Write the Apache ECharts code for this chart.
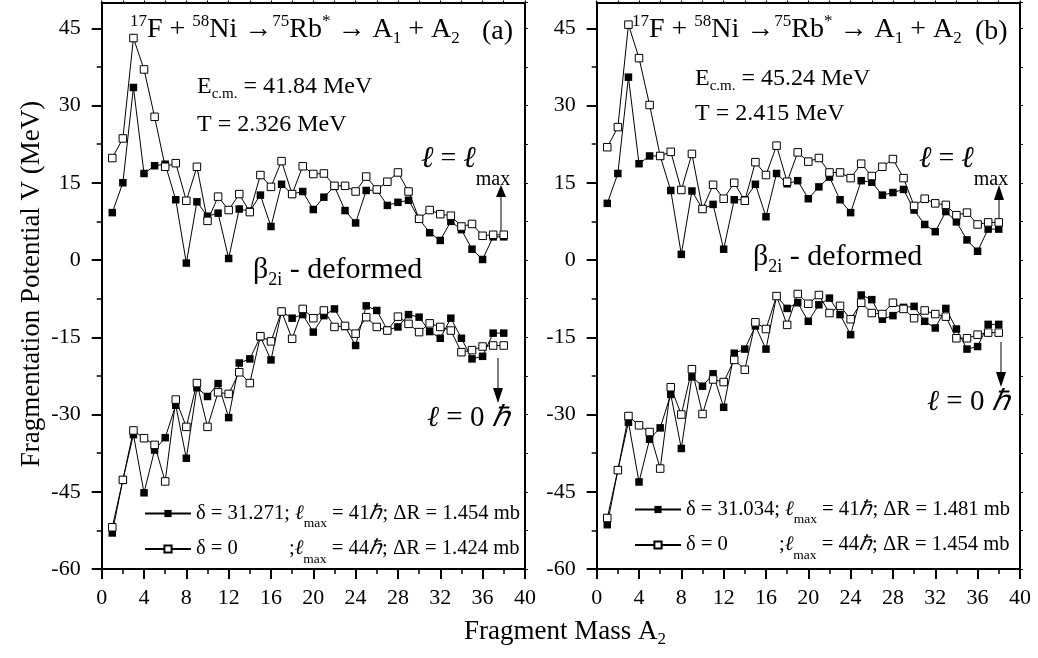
<!DOCTYPE html>
<html><head><meta charset="utf-8">
<script src="https://cdn.jsdelivr.net/npm/echarts@6/dist/echarts.min.js"></script>
<style>html,body{margin:0;padding:0;background:#fff}#c{width:1038px;height:658px}</style>
</head><body><div id="c"></div>
<script>
// ---------- data ----------
const massA = [1,2,3,4,5,6,7,8,9,10,11,12,13,14,15,16,17,18,19,20,21,22,23,24,25,26,27,28,29,30,31,32,33,34,35,36,37,38];
const yTicks = [-60,-45,-30,-15,0,15,30,45];
const xTicks = [0,4,8,12,16,20,24,28,32,36,40];

// panel (a): E_cm = 41.84 MeV
const aDefLmax = [9.2,15.0,33.5,16.8,18.3,18.6,11.7,-0.6,11.3,8.5,9.1,0.3,9.9,9.5,12.6,6.5,14.7,12.8,13.3,9.8,12.2,14.3,9.6,7.2,13.5,13.6,10.6,11.2,11.6,8.0,5.3,3.8,7.5,5.9,2.1,0.1,4.5,4.5];
const aSphLmax = [19.8,23.6,43.1,37.0,27.8,18.1,18.8,11.5,18.1,7.6,12.3,9.7,12.8,9.3,16.5,14.2,19.2,12.8,18.2,16.7,16.8,14.4,14.4,13.3,16.2,13.7,15.2,17.0,13.3,8.0,9.7,8.9,8.6,6.5,7.0,4.7,4.9,4.9];
const aDefL0 = [-53.0,-42.7,-33.9,-45.2,-36.9,-34.5,-28.2,-38.5,-24.8,-26.5,-24.0,-30.6,-20.0,-19.2,-14.9,-19.4,-10.0,-11.3,-10.6,-14.0,-10.8,-9.5,-12.9,-16.6,-8.9,-9.8,-13.6,-13.0,-10.6,-11.1,-13.9,-15.2,-11.3,-15.2,-19.2,-18.7,-14.2,-14.2];
const aSphL0 = [-51.9,-42.7,-33.1,-34.6,-35.9,-43.0,-27.1,-32.4,-23.9,-32.4,-25.7,-26.0,-21.8,-23.9,-14.8,-15.8,-10.0,-15.3,-9.5,-11.3,-9.8,-13.0,-12.8,-14.3,-11.1,-13.0,-13.7,-11.0,-12.4,-14.0,-12.3,-13.0,-13.7,-17.9,-17.5,-16.8,-16.6,-16.6];

// panel (b): E_cm = 45.24 MeV
const bDefLmax = [11.0,16.8,35.5,18.7,20.2,20.2,13.5,1.1,13.4,9.9,10.8,2.1,11.7,11.7,14.7,8.4,16.8,14.8,15.4,11.9,14.2,16.1,11.7,9.2,15.4,15.1,12.6,13.1,13.7,9.7,6.9,5.5,9.4,7.4,3.9,1.7,6.0,6.0];
const bSphLmax = [21.9,25.8,45.7,39.2,30.1,20.2,21.0,13.6,20.6,9.9,14.6,11.9,15.0,11.5,19.0,16.5,22.2,15.2,20.9,19.1,19.8,17.0,17.0,15.9,18.7,16.3,18.1,19.6,15.9,10.5,11.9,11.0,10.7,8.7,9.2,6.9,7.3,7.3];
const bDefL0 = [-51.4,-40.8,-31.5,-43.1,-34.8,-32.6,-26.1,-36.6,-22.7,-24.5,-22.1,-28.6,-18.1,-17.3,-12.8,-17.3,-7.0,-9.4,-8.3,-11.9,-8.7,-7.4,-10.6,-14.5,-6.8,-7.7,-11.5,-10.8,-9.2,-9.0,-11.9,-13.2,-9.4,-13.4,-17.3,-16.8,-12.5,-12.5];
const bSphL0 = [-50.1,-40.8,-30.3,-32.1,-33.4,-40.5,-24.7,-30.0,-21.2,-29.9,-23.2,-23.7,-19.4,-21.3,-12.1,-13.4,-7.0,-12.6,-6.6,-8.5,-6.8,-10.3,-8.9,-11.5,-8.3,-10.3,-10.5,-8.3,-9.5,-11.3,-9.8,-10.5,-11.0,-15.2,-15.2,-14.5,-14.1,-14.1];

// ---------- chart ----------
const F = 'Liberation Serif';
const chart = echarts.init(document.getElementById('c'), null, {renderer: 'canvas'});
const pairs = arr => massA.map((m, i) => [m, arr[i]]);

function ser(name, arr, g, filled) {
  return {
    type: 'line', name: name, xAxisIndex: g * 2, yAxisIndex: g * 2,
    data: pairs(arr), symbol: 'rect', symbolSize: 7.5, showSymbol: true,
    lineStyle: {color: '#000', width: 1},
    itemStyle: filled ? {color: '#000', borderColor: '#000', borderWidth: 0}
                      : {color: '#fff', borderColor: '#000', borderWidth: 1},
    z: filled ? 2 : 3, silent: true, emphasis: {disabled: true}, animation: false
  };
}

const lineAx = {show: true, onZero: false, lineStyle: {color: '#000', width: 2}};
function xMain(g) {
  return {type: 'value', gridIndex: g, position: 'bottom', min: 0, max: 40, interval: 4,
    axisLine: lineAx, axisTick: {show: true, length: 10, lineStyle: {color: '#000', width: 2}},
    minorTick: {show: true, splitNumber: 2, length: 5, lineStyle: {color: '#000', width: 1.5}},
    axisLabel: {fontFamily: F, fontSize: 22, color: '#000', margin: 18},
    splitLine: {show: false}};
}
function xTop(g) {
  return {type: 'value', gridIndex: g, position: 'top', min: 0, max: 40, interval: 2,
    axisLine: lineAx, axisTick: {show: true, length: 2, lineStyle: {color: '#000', width: 1}},
    axisLabel: {show: false}, splitLine: {show: false}};
}
function yMain(g) {
  return {type: 'value', gridIndex: g, position: 'left', min: -60, max: 50, interval: 15,
    axisLine: lineAx,
    axisTick: {show: true, length: 10, customValues: yTicks, lineStyle: {color: '#000', width: 2}},
    minorTick: {show: true, splitNumber: 2, length: 5, lineStyle: {color: '#000', width: 1.5}},
    axisLabel: {customValues: yTicks, fontFamily: F, fontSize: 22, color: '#000', margin: 21},
    splitLine: {show: false}};
}
function yRight(g) {
  return {type: 'value', gridIndex: g, position: 'right', min: -60, max: 50, interval: 7.5,
    axisLine: lineAx, axisTick: {show: true, length: 3, lineStyle: {color: '#000', width: 1}},
    axisLabel: {show: false}, splitLine: {show: false}};
}

function T(x, y, text, rich, extra) {
  return Object.assign({type: 'text', x: x, y: y, silent: true,
    style: {text: text, rich: rich, fill: '#000', font: '24px ' + F,
      textAlign: 'left', textVerticalAlign: 'middle', align: 'left', verticalAlign: 'middle'}}, extra || {});
}

const richTitle = {
  m: {fontFamily: F, fontSize: 28, lineHeight: 34, color: '#000'},
  p: {fontFamily: F, fontSize: 17, lineHeight: 22, verticalAlign: 'top', color: '#000'},
  b: {fontFamily: F, fontSize: 17, lineHeight: 12, verticalAlign: 'bottom', color: '#000'}
};
const titleTxt = '{p|17}{m|F + }{p|58}{m|Ni →}{p|75}{m|Rb}{p|*}{m| → A}{b|1}{m| + A}{b|2}';
const richE = {
  m: {fontFamily: F, fontSize: 24, lineHeight: 30, color: '#000'},
  b: {fontFamily: F, fontSize: 15, lineHeight: 12, verticalAlign: 'bottom', color: '#000'}
};
const richL = {
  i: {fontFamily: F, fontSize: 30, fontStyle: 'italic', lineHeight: 62, color: '#000'},
  m: {fontFamily: F, fontSize: 28, lineHeight: 62, color: '#000'},
  b: {fontFamily: F, fontSize: 20, lineHeight: 20, verticalAlign: 'bottom', color: '#000'}
};
const richB = {
  m: {fontFamily: F, fontSize: 30, lineHeight: 38, color: '#000'},
  b: {fontFamily: F, fontSize: 18, lineHeight: 18, verticalAlign: 'bottom', color: '#000'}
};
const richZ = {
  i: {fontFamily: F, fontSize: 29, fontStyle: 'italic', color: '#000'},
  m: {fontFamily: F, fontSize: 29, color: '#000'}
};
const richX = {
  m: {fontFamily: F, fontSize: 27, lineHeight: 32, color: '#000'},
  b: {fontFamily: F, fontSize: 17, lineHeight: 12, verticalAlign: 'bottom', color: '#000'}
};

function arrowUp(x, yBot, yHead, yTip) {
  return [
    {type: 'line', silent: true, shape: {x1: x, y1: yBot, x2: x, y2: yHead}, style: {stroke: '#000', lineWidth: 1}},
    {type: 'polygon', silent: true, shape: {points: [[x - 5, yHead], [x + 5, yHead], [x, yTip]]}, style: {fill: '#000'}}
  ];
}

const legendTexts = {
  aDef: '{t|δ = 31.271; }{i|ℓ}{s|max}{t| = 41}{i|ℏ}{t|; ΔR = 1.454 mb}',
  aSph: '{w|δ = 0}{t|;}{i|ℓ}{s|max}{t| = 44}{i|ℏ}{t|; ΔR = 1.424 mb}',
  bDef: '{t|δ = 31.034; }{i|ℓ}{s|max}{t| = 41}{i|ℏ}{t|; ΔR = 1.481 mb}',
  bSph: '{w|δ = 0}{t|;}{i|ℓ}{s|max}{t| = 44}{i|ℏ}{t|; ΔR = 1.454 mb}'
};
const legRich = {
  t: {fontFamily: F, fontSize: 20.6, lineHeight: 34, color: '#000'},
  w: {fontFamily: F, fontSize: 20.6, lineHeight: 34, width: 93, color: '#000'},
  i: {fontFamily: F, fontSize: 20.6, fontStyle: 'italic', lineHeight: 34, color: '#000'},
  s: {fontFamily: F, fontSize: 13.5, lineHeight: 10, verticalAlign: 'bottom', color: '#000'}
};
function legend(names, left, top) {
  return {data: names, left: left, top: top, orient: 'vertical', padding: 0, itemGap: 8,
    itemWidth: 46, itemHeight: 9, selectedMode: false, inactiveColor: '#000',
    formatter: n => legendTexts[n], textStyle: {fontFamily: F, fontSize: 20.6, color: '#000', rich: legRich}};
}

const option = {
  animation: false,
  backgroundColor: '#fff',
  grid: [
    {left: 101.7, right: 513.1, top: 2.5, bottom: 89},
    {left: 596.7, right: 18.1, top: 2.5, bottom: 89}
  ],
  xAxis: [xMain(0), xTop(0), xMain(1), xTop(1)],
  yAxis: [yMain(0), yRight(0), yMain(1), yRight(1)],
  legend: [legend(['aDef', 'aSph'], 144, 503), legend(['bDef', 'bSph'], 634, 499)],
  series: [
    ser('aDef', aDefLmax, 0, true), ser('aDef', aDefL0, 0, true),
    ser('aSph', aSphLmax, 0, false), ser('aSph', aSphL0, 0, false),
    ser('bDef', bDefLmax, 1, true), ser('bDef', bDefL0, 1, true),
    ser('bSph', bSphLmax, 1, false), ser('bSph', bSphL0, 1, false)
  ],
  graphic: [].concat(
    [
      T(130, 30, titleTxt, richTitle),
      T(482, 32, '{m|(a)}', richTitle),
      T(632, 30, titleTxt, richTitle),
      T(975, 32, '{m|(b)}', richTitle),
      T(197, 86.5, '{m|E}{b|c.m.}{m| = 41.84 MeV}', richE),
      T(197, 124.5, '{m|T = 2.326 MeV}', richE),
      T(695, 78.5, '{m|E}{b|c.m.}{m| = 45.24 MeV}', richE),
      T(695, 113.5, '{m|T = 2.415 MeV}', richE),
      T(421, 159, '{i|ℓ}{m| = }{i|ℓ}{b|max}', richL),
      T(919, 159, '{i|ℓ}{m| = }{i|ℓ}{b|max}', richL),
      T(253, 270, '{m|β}{b|2i}{m| - deformed}', richB),
      T(753, 257, '{m|β}{b|2i}{m| - deformed}', richB),
      T(427, 418, '{i|ℓ}{m| = 0 }{i|ℏ}', richZ),
      T(927, 402, '{i|ℓ}{m| = 0 }{i|ℏ}', richZ),
      T(32, 284, '', richX,
        {rotation: Math.PI / 2, style: {text: '{m|Fragmentation Potential V (MeV)}', rich: richX, fill: '#000',
          textAlign: 'center', textVerticalAlign: 'middle', align: 'center', verticalAlign: 'middle'}}),
      T(565, 632, '', richX,
        {style: {text: '{m|Fragment Mass A}{b|2}', rich: richX, fill: '#000',
          textAlign: 'center', textVerticalAlign: 'middle', align: 'center', verticalAlign: 'middle'}})
    ],
    arrowUp(501, 236, 197, 185),
    arrowUp(999, 223, 200, 185),
    arrowUp(498, 358, 388, 403),
    arrowUp(1001, 342, 372, 387)
  )
};
chart.setOption(option);
</script></body></html>
